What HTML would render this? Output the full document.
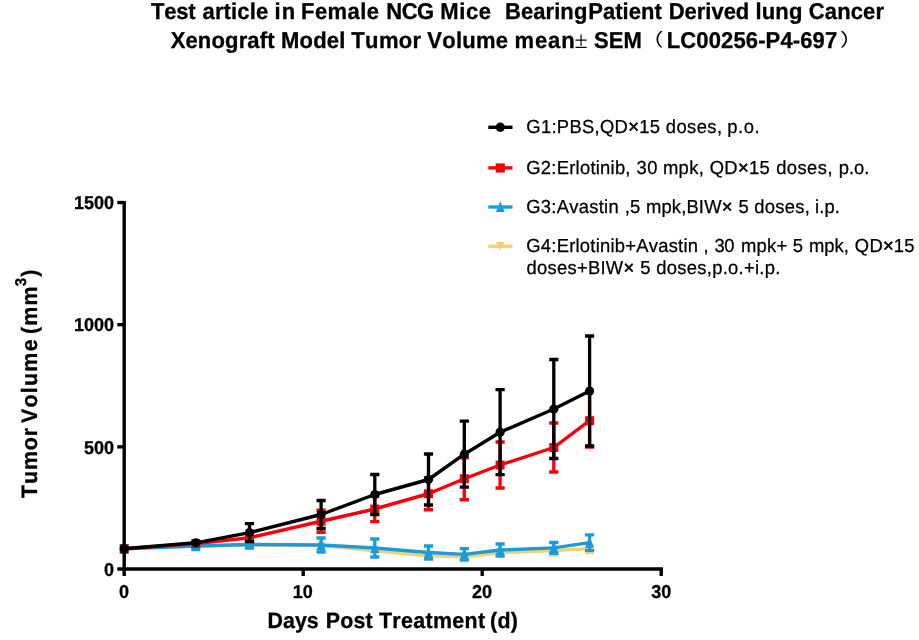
<!DOCTYPE html>
<html lang="en"><head><meta charset="utf-8"><title>Tumor Volume</title>
<style>
html,body{margin:0;padding:0;background:#fff;overflow:hidden;}
svg{display:block;}
text{font-family:"Liberation Sans","Noto Sans CJK SC",sans-serif;fill:#000;font-kerning:none;white-space:pre;text-rendering:geometricPrecision;}
.b{font-weight:bold;stroke:#000;stroke-width:0.3px;}
.r{font-weight:normal;stroke:#000;stroke-width:0.25px;}
.x{stroke-width:0.55px;}
.pm{font-family:"Liberation Serif","Noto Serif CJK SC",serif;font-weight:normal;}
.cj{font-family:"Noto Sans CJK SC","Liberation Sans",sans-serif;font-weight:normal;}
</style></head><body>
<svg width="919" height="640" viewBox="0 0 919 640">
<rect width="919" height="640" fill="#fff"/>
<g id="title">
<text transform="translate(150.90 19.30) scale(1.0000 1.04)" font-size="22.0" class="b" letter-spacing="-0.207">Test</text>
<text transform="translate(202.51 19.30) scale(1.0000 1.04)" font-size="22.0" class="b" letter-spacing="0.146">article</text>
<text transform="translate(274.61 19.30) scale(1.0000 1.04)" font-size="22.0" class="b" letter-spacing="1.050">in</text>
<text transform="translate(301.08 19.30) scale(1.0000 1.04)" font-size="22.0" class="b" letter-spacing="0.421">Female</text>
<text transform="translate(386.28 19.30) scale(1.0000 1.04)" font-size="22.0" class="b" letter-spacing="-0.476">NCG</text>
<text transform="translate(440.28 19.30) scale(1.0000 1.04)" font-size="22.0" class="b" letter-spacing="0.605">Mice</text>
<text transform="translate(504.98 19.30) scale(1.0000 1.04)" font-size="22.0" class="b" letter-spacing="0.072">Bearing</text>
<text transform="translate(588.28 19.30) scale(1.0000 1.04)" font-size="22.0" class="b" letter-spacing="0.015">Patient</text>
<text transform="translate(668.68 19.30) scale(1.0000 1.04)" font-size="22.0" class="b" letter-spacing="-0.014">Derived</text>
<text transform="translate(755.41 19.30) scale(1.0000 1.04)" font-size="22.0" class="b" letter-spacing="0.160">lung</text>
<text transform="translate(808.85 19.30) scale(1.0000 1.04)" font-size="22.0" class="b" letter-spacing="0.108">Cancer</text>
<text transform="translate(170.66 48.10) scale(1.0000 1.04)" font-size="22.0" class="b" letter-spacing="0.149">Xenograft</text>
<text transform="translate(281.08 48.10) scale(1.0000 1.04)" font-size="22.0" class="b" letter-spacing="0.195">Model</text>
<text transform="translate(351.30 48.10) scale(1.0000 1.04)" font-size="22.0" class="b" letter-spacing="0.360">Tumor</text>
<text transform="translate(427.20 48.10) scale(1.0000 1.04)" font-size="22.0" class="b" letter-spacing="0.288">Volume</text>
<text transform="translate(514.50 48.10) scale(1.0000 1.04)" font-size="22.0" class="b" letter-spacing="0.881">mean</text>
<text transform="translate(593.92 48.10) scale(1.0000 1.04)" font-size="22.0" class="b" letter-spacing="0.066">SEM</text>
<text transform="translate(666.68 48.10) scale(1.0000 1.04)" font-size="22.0" class="b" letter-spacing="0.136">LC00256-P4-697</text>
<text x="581.1" y="48.3" text-anchor="middle" font-size="24" class="pm">±</text>
<text transform="translate(640.6 46.2) scale(1.3 1)" font-size="17.7" class="cj">（</text>
<text transform="translate(839.9 46.2) scale(1.3 1)" font-size="17.7" class="cj">）</text>
</g>
<g id="xlabel">
<text transform="translate(267.52 627.80) scale(1.0000 1.04)" font-size="21.4" class="b" letter-spacing="0.017">Days</text>
<text transform="translate(325.72 627.80) scale(1.0000 1.04)" font-size="21.4" class="b" letter-spacing="0.173">Post</text>
<text transform="translate(378.91 627.80) scale(1.0000 1.04)" font-size="21.4" class="b" letter-spacing="0.343">Treatment</text>
<text transform="translate(490.08 627.80) scale(1.0000 1.04)" font-size="21.4" class="b" letter-spacing="0.253">(d)</text>
</g>
<g id="ylabel">
<g transform="translate(37.2 498) rotate(-90)">
<text transform="translate(-0.09 0.00) scale(1.0000 1.04)" font-size="21.4" class="b" letter-spacing="0.923">Tumor</text>
<text transform="translate(75.00 0.00) scale(1.0000 1.04)" font-size="21.4" class="b" letter-spacing="1.257">Volume</text>
<text transform="translate(164.08 0.00) scale(1.0000 1.04)" font-size="21.4" class="b" letter-spacing="1.155">(mm</text>
<text transform="translate(221.13 0.00) scale(1.0000 1.04)" font-size="21.4" class="b">)</text>
<text transform="translate(211.81 -10.80) scale(1.0000 1.04)" font-size="15" class="b">3</text>
</g>
</g>
<g id="series">
<path d="M553.80 550.60V555.00M549.20 555.00h9.2" stroke="#f6cf72" stroke-width="3.3" fill="none"/>
<path d="M589.60 548.60V552.60M585.00 552.60h9.2" stroke="#f6cf72" stroke-width="3.3" fill="none"/>
<polyline fill="none" stroke="#f6cf72" stroke-width="3.4" stroke-linejoin="round" points="124.20,548.70 195.80,546.00 249.50,545.00 321.10,545.50 374.80,550.80 428.50,555.80 464.30,556.90 500.10,552.80 553.80,550.60 589.60,548.60"/>
<path d="M124.20 553.00L128.50 544.40H119.90Z" fill="#f6cf72"/>
<path d="M195.80 550.30L200.10 541.70H191.50Z" fill="#f6cf72"/>
<path d="M249.50 549.30L253.80 540.70H245.20Z" fill="#f6cf72"/>
<path d="M321.10 549.80L325.40 541.20H316.80Z" fill="#f6cf72"/>
<path d="M374.80 555.10L379.10 546.50H370.50Z" fill="#f6cf72"/>
<path d="M428.50 560.10L432.80 551.50H424.20Z" fill="#f6cf72"/>
<path d="M464.30 561.20L468.60 552.60H460.00Z" fill="#f6cf72"/>
<path d="M500.10 557.10L504.40 548.50H495.80Z" fill="#f6cf72"/>
<path d="M553.80 554.90L558.10 546.30H549.50Z" fill="#f6cf72"/>
<path d="M589.60 552.90L593.90 544.30H585.30Z" fill="#f6cf72"/>
<path d="M195.80 543.50V548.50M191.20 543.50h9.2M191.20 548.50h9.2" stroke="#1c9bdb" stroke-width="3.3" fill="none"/>
<path d="M249.50 541.50V547.50M244.90 541.50h9.2M244.90 547.50h9.2" stroke="#1c9bdb" stroke-width="3.3" fill="none"/>
<path d="M321.10 538.00V552.00M316.50 538.00h9.2M316.50 552.00h9.2" stroke="#1c9bdb" stroke-width="3.3" fill="none"/>
<path d="M374.80 539.00V557.00M370.20 539.00h9.2M370.20 557.00h9.2" stroke="#1c9bdb" stroke-width="3.3" fill="none"/>
<path d="M428.50 546.00V559.00M423.90 546.00h9.2M423.90 559.00h9.2" stroke="#1c9bdb" stroke-width="3.3" fill="none"/>
<path d="M464.30 548.70V560.10M459.70 548.70h9.2M459.70 560.10h9.2" stroke="#1c9bdb" stroke-width="3.3" fill="none"/>
<path d="M500.10 544.00V556.00M495.50 544.00h9.2M495.50 556.00h9.2" stroke="#1c9bdb" stroke-width="3.3" fill="none"/>
<path d="M553.80 542.50V553.30M549.20 542.50h9.2M549.20 553.30h9.2" stroke="#1c9bdb" stroke-width="3.3" fill="none"/>
<path d="M589.60 534.90V550.30M585.00 534.90h9.2M585.00 550.30h9.2" stroke="#1c9bdb" stroke-width="3.3" fill="none"/>
<polyline fill="none" stroke="#1c9bdb" stroke-width="3.4" stroke-linejoin="round" points="124.20,548.70 195.80,546.00 249.50,544.50 321.10,545.00 374.80,548.00 428.50,552.50 464.30,554.40 500.10,550.00 553.80,547.90 589.60,542.60"/>
<path d="M124.20 542.80L128.80 553.90H119.60Z" fill="#1c9bdb"/>
<path d="M195.80 540.10L200.40 551.20H191.20Z" fill="#1c9bdb"/>
<path d="M249.50 538.60L254.10 549.70H244.90Z" fill="#1c9bdb"/>
<path d="M321.10 539.10L325.70 550.20H316.50Z" fill="#1c9bdb"/>
<path d="M374.80 542.10L379.40 553.20H370.20Z" fill="#1c9bdb"/>
<path d="M428.50 546.60L433.10 557.70H423.90Z" fill="#1c9bdb"/>
<path d="M464.30 548.50L468.90 559.60H459.70Z" fill="#1c9bdb"/>
<path d="M500.10 544.10L504.70 555.20H495.50Z" fill="#1c9bdb"/>
<path d="M553.80 542.00L558.40 553.10H549.20Z" fill="#1c9bdb"/>
<path d="M589.60 536.70L594.20 547.80H585.00Z" fill="#1c9bdb"/>
<path d="M249.50 534.50V540.90M244.90 534.50h9.2M244.90 540.90h9.2" stroke="#f80008" stroke-width="3.3" fill="none"/>
<path d="M321.10 510.25V532.25M316.50 510.25h9.2M316.50 532.25h9.2" stroke="#f80008" stroke-width="3.3" fill="none"/>
<path d="M374.80 496.30V521.70M370.20 496.30h9.2M370.20 521.70h9.2" stroke="#f80008" stroke-width="3.3" fill="none"/>
<path d="M428.50 477.75V509.75M423.90 477.75h9.2M423.90 509.75h9.2" stroke="#f80008" stroke-width="3.3" fill="none"/>
<path d="M464.30 457.75V499.75M459.70 457.75h9.2M459.70 499.75h9.2" stroke="#f80008" stroke-width="3.3" fill="none"/>
<path d="M500.10 442.00V488.00M495.50 442.00h9.2M495.50 488.00h9.2" stroke="#f80008" stroke-width="3.3" fill="none"/>
<path d="M553.80 423.00V472.00M549.20 423.00h9.2M549.20 472.00h9.2" stroke="#f80008" stroke-width="3.3" fill="none"/>
<path d="M589.60 394.20V447.20M585.00 447.20h9.2" stroke="#f80008" stroke-width="3.3" fill="none"/>
<polyline fill="none" stroke="#f80008" stroke-width="3.4" stroke-linejoin="round" points="124.20,548.70 195.80,543.60 249.50,537.70 321.10,521.25 374.80,509.00 428.50,493.75 464.30,478.75 500.10,465.00 553.80,447.50 589.60,420.70"/>
<rect x="119.70" y="544.20" width="9.0" height="9.0" fill="#8a0016"/>
<rect x="191.30" y="539.10" width="9.0" height="9.0" fill="#f80008"/>
<rect x="245.00" y="533.20" width="9.0" height="9.0" fill="#f80008"/>
<rect x="316.60" y="516.75" width="9.0" height="9.0" fill="#f80008"/>
<rect x="370.30" y="504.50" width="9.0" height="9.0" fill="#f80008"/>
<rect x="424.00" y="489.25" width="9.0" height="9.0" fill="#f80008"/>
<rect x="459.80" y="474.25" width="9.0" height="9.0" fill="#f80008"/>
<rect x="495.60" y="460.50" width="9.0" height="9.0" fill="#f80008"/>
<rect x="549.30" y="443.00" width="9.0" height="9.0" fill="#f80008"/>
<rect x="585.10" y="416.20" width="9.0" height="9.0" fill="#f80008"/>
<path d="M249.50 523.60V541.60M244.90 523.60h9.2M244.90 541.60h9.2" stroke="#000" stroke-width="3.3" fill="none"/>
<path d="M321.10 500.50V528.50M316.50 500.50h9.2M316.50 528.50h9.2" stroke="#000" stroke-width="3.3" fill="none"/>
<path d="M374.80 474.50V514.50M370.20 474.50h9.2M370.20 514.50h9.2" stroke="#000" stroke-width="3.3" fill="none"/>
<path d="M428.50 454.00V505.00M423.90 454.00h9.2M423.90 505.00h9.2" stroke="#000" stroke-width="3.3" fill="none"/>
<path d="M464.30 421.20V487.20M459.70 421.20h9.2M459.70 487.20h9.2" stroke="#000" stroke-width="3.3" fill="none"/>
<path d="M500.10 389.70V474.70M495.50 389.70h9.2M495.50 474.70h9.2" stroke="#000" stroke-width="3.3" fill="none"/>
<path d="M553.80 359.50V458.50M549.20 359.50h9.2M549.20 458.50h9.2" stroke="#000" stroke-width="3.3" fill="none"/>
<path d="M589.60 336.00V446.00M585.00 336.00h9.2M585.00 446.00h9.2" stroke="#000" stroke-width="3.3" fill="none"/>
<polyline fill="none" stroke="#000" stroke-width="3.4" stroke-linejoin="round" points="124.20,548.70 195.80,542.80 249.50,532.60 321.10,514.50 374.80,494.50 428.50,479.50 464.30,454.20 500.10,432.20 553.80,409.00 589.60,391.00"/>
<circle cx="124.20" cy="548.70" r="4.6" fill="#000"/>
<circle cx="195.80" cy="542.80" r="4.6" fill="#000"/>
<circle cx="249.50" cy="532.60" r="4.6" fill="#000"/>
<circle cx="321.10" cy="514.50" r="4.6" fill="#000"/>
<circle cx="374.80" cy="494.50" r="4.6" fill="#000"/>
<circle cx="428.50" cy="479.50" r="4.6" fill="#000"/>
<circle cx="464.30" cy="454.20" r="4.6" fill="#000"/>
<circle cx="500.10" cy="432.20" r="4.6" fill="#000"/>
<circle cx="553.80" cy="409.00" r="4.6" fill="#000"/>
<circle cx="589.60" cy="391.00" r="4.6" fill="#000"/>
</g>
<g id="axes">
<path d="M124.20 201V570.70M122.50 569.00H662.90" stroke="#000" stroke-width="3.4" fill="none"/>
<path d="M117.3 569.00H124.20" stroke="#000" stroke-width="3.4"/>
<text transform="translate(103.98 575.70) scale(1.0000 1.04)" font-size="18.0" class="b">0</text>
<path d="M117.3 446.85H124.20" stroke="#000" stroke-width="3.4"/>
<text transform="translate(83.96 453.55) scale(1.0000 1.04)" font-size="18.0" class="b">500</text>
<path d="M117.3 324.70H124.20" stroke="#000" stroke-width="3.4"/>
<text transform="translate(73.95 331.40) scale(1.0000 1.04)" font-size="18.0" class="b">1000</text>
<path d="M117.3 202.55H124.20" stroke="#000" stroke-width="3.4"/>
<text transform="translate(73.95 209.25) scale(1.0000 1.04)" font-size="18.0" class="b">1500</text>
<path d="M124.20 569.00V576" stroke="#000" stroke-width="3.4"/>
<text transform="translate(119.01 597.50) scale(1.0000 1.04)" font-size="18.0" class="b">0</text>
<path d="M303.20 569.00V576" stroke="#000" stroke-width="3.4"/>
<text transform="translate(292.79 597.50) scale(1.0000 1.04)" font-size="18.0" class="b">10</text>
<path d="M482.20 569.00V576" stroke="#000" stroke-width="3.4"/>
<text transform="translate(472.05 597.50) scale(1.0000 1.04)" font-size="18.0" class="b">20</text>
<path d="M661.20 569.00V576" stroke="#000" stroke-width="3.4"/>
<text transform="translate(651.15 597.50) scale(1.0000 1.04)" font-size="18.0" class="b">30</text>
</g>
<g id="legend">
<text transform="translate(526.30 133.20) scale(1.0000 1.025)" font-size="18.4" class="r" letter-spacing="0.304">G1:PBS,QD<tspan class="x">×</tspan>15</text>
<text transform="translate(665.75 133.20) scale(1.0000 1.025)" font-size="18.4" class="r" letter-spacing="0.433">doses,</text>
<text transform="translate(727.34 133.20) scale(1.0000 1.025)" font-size="18.4" class="r" letter-spacing="0.508">p.o.</text>
<text transform="translate(526.30 173.70) scale(1.0000 1.025)" font-size="18.4" class="r" letter-spacing="0.249">G2:Erlotinib,</text>
<text transform="translate(636.42 173.70) scale(1.0000 1.025)" font-size="18.4" class="r" letter-spacing="0.503">30</text>
<text transform="translate(662.90 173.70) scale(1.0000 1.025)" font-size="18.4" class="r" letter-spacing="0.384">mpk,</text>
<text transform="translate(709.65 173.70) scale(1.0000 1.025)" font-size="18.4" class="r" letter-spacing="0.346">QD<tspan class="x">×</tspan>15</text>
<text transform="translate(776.15 173.70) scale(1.0000 1.025)" font-size="18.4" class="r" letter-spacing="0.433">doses,</text>
<text transform="translate(838.74 173.70) scale(1.0000 1.025)" font-size="18.4" class="r" letter-spacing="-0.025">p.o.</text>
<text transform="translate(526.30 212.50) scale(1.0000 1.025)" font-size="18.4" class="r" letter-spacing="0.264">G3:Avastin</text>
<text transform="translate(624.87 212.50) scale(1.0000 1.025)" font-size="18.4" class="r" letter-spacing="0.030">,5</text>
<text transform="translate(645.90 212.50) scale(1.0000 1.025)" font-size="18.4" class="r" letter-spacing="0.167">mpk,BIW<tspan class="x">×</tspan></text>
<text transform="translate(738.39 212.50) scale(1.0000 1.025)" font-size="18.4" class="r">5</text>
<text transform="translate(754.25 212.50) scale(1.0000 1.025)" font-size="18.4" class="r" letter-spacing="0.293">doses,</text>
<text transform="translate(814.89 212.50) scale(1.0000 1.025)" font-size="18.4" class="r" letter-spacing="0.172">i.p.</text>
<text transform="translate(526.30 252.40) scale(1.0000 1.025)" font-size="18.4" class="r" letter-spacing="0.240">G4:Erlotinib+Avastin</text>
<text transform="translate(703.47 252.40) scale(1.0000 1.025)" font-size="18.4" class="r">,</text>
<text transform="translate(714.42 252.40) scale(1.0000 1.025)" font-size="18.4" class="r" letter-spacing="-0.297">30</text>
<text transform="translate(740.90 252.40) scale(1.0000 1.025)" font-size="18.4" class="r" letter-spacing="0.324">mpk+</text>
<text transform="translate(792.69 252.40) scale(1.0000 1.025)" font-size="18.4" class="r">5</text>
<text transform="translate(808.90 252.40) scale(1.0000 1.025)" font-size="18.4" class="r" letter-spacing="0.017">mpk,</text>
<text transform="translate(854.85 252.40) scale(1.0000 1.025)" font-size="18.4" class="r" letter-spacing="0.221">QD<tspan class="x">×</tspan>15</text>
<text transform="translate(526.45 274.20) scale(1.0000 1.025)" font-size="18.4" class="r" letter-spacing="0.272">doses+BIW<tspan class="x">×</tspan></text>
<text transform="translate(640.29 274.20) scale(1.0000 1.025)" font-size="18.4" class="r">5</text>
<text transform="translate(656.25 274.20) scale(1.0000 1.025)" font-size="18.4" class="r" letter-spacing="0.286">doses,p.o.+i.p.</text>
<path d="M488.3 127.3H512.5" stroke="#000" stroke-width="3.4"/><circle cx="500.30" cy="127.30" r="4.7" fill="#000"/>
<path d="M488.3 167.9H512.5" stroke="#f80008" stroke-width="3.4"/><rect x="495.70" y="163.40" width="9.2" height="9.2" fill="#f80008"/>
<path d="M488.3 207H512.5" stroke="#1c9bdb" stroke-width="3.4"/><path d="M500.30 201.30L504.70 212.00H495.90Z" fill="#1c9bdb"/>
<path d="M488.3 246.2H512.5" stroke="#f6cf72" stroke-width="3.4"/><path d="M500.30 250.40L504.50 242.00H496.10Z" fill="#f6cf72"/>

</g>
</svg>
</body></html>
